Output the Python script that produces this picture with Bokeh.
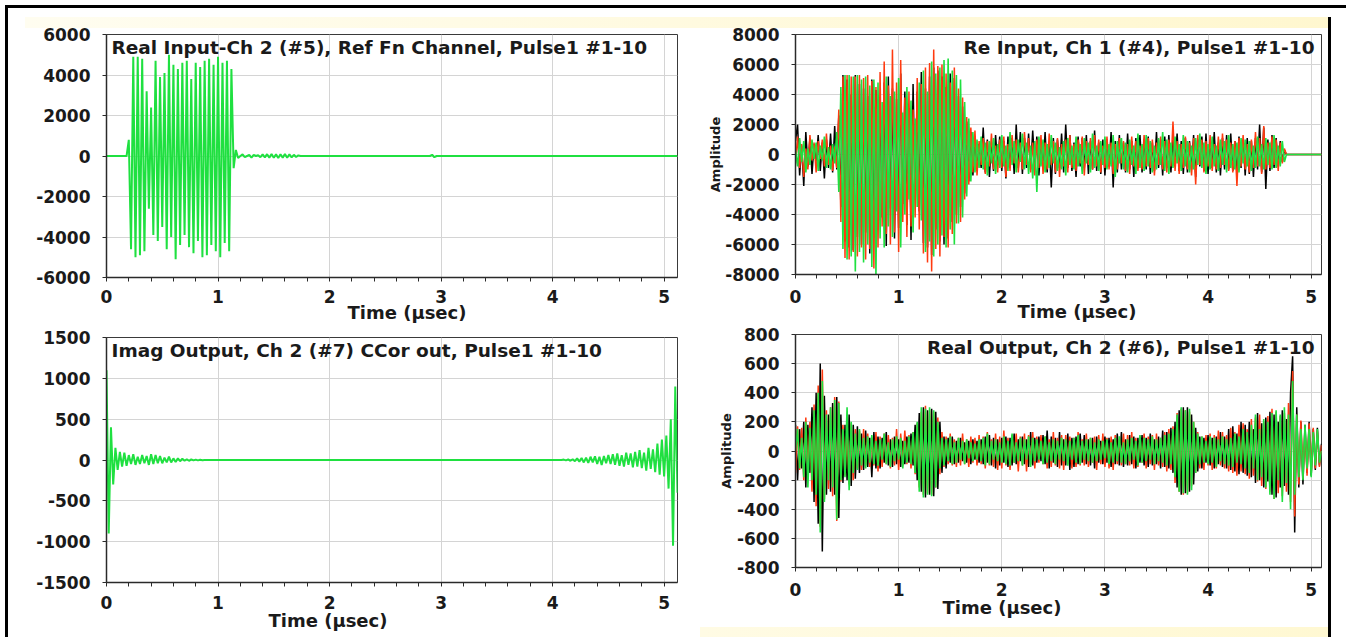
from bokeh.plotting import figure
from bokeh.layouts import column, row
from bokeh.models import Range1d, FixedTicker, Label, Title
from bokeh.embed import file_html
from bokeh.resources import INLINE

# ---------------- data (sample step 0.02 usec) ----------------
DT = 0.02

# Top-left: Real Input-Ch 2 (#5), Ref Fn Channel (green)
tl_green = [
    0, 0, 0, 0, 0, 0, 0, 0, 0, 0,
    800, -4600, 4900, -5000, 4900, -4900, 4800, -4700, 3200, -2600,
    2400, -3900, 4700, -4200, 3900, -3500, 4100, -4600, 5000, -4000,
    4500, -5100, 4300, -4400, 4600, -3900, 4700, -4500, 3800, -4800,
    4600, -4200, 4400, -5000, 4700, -4900, 4800, -4400, 4500, -4700,
    4900, -5000, 4600, -4300, 4700, -4700, 4300, -600, 300, -100,
    0, 80, -60, 0, 50, -80, 60, 0, 40, -60,
    80, -70, 90, -80, 100, -90, 80, -100, 90, -80,
    100, -90, 80, -70, 60, -50, 30, 0, 0, 0,
    0, 0, 0, 0, 0, 0, 0, 0, 0, 0,
    0, 0, 0, 0, 0, 0, 0, 0, 0, 0,
    0, 0, 0, 0, 0, 0, 0, 0, 0, 0,
    0, 0, 0, 0, 0, 0, 0, 0, 0, 0,
    0, 0, 0, 0, 0, 0, 0, 0, 0, 0,
    0, 0, 0, 0, 0, 0, 60, -60, 0, 0,
    0, 0, 0, 0, 0, 0, 0, 0, 0, 0,
    0, 0, 0, 0, 0, 0, 0, 0, 0, 0,
    0, 0, 0, 0, 0, 0, 0, 0, 0, 0,
    0, 0, 0, 0, 0, 0, 0, 0, 0, 0,
    0, 0, 0, 0, 0, 0, 0, 0, 0, 0,
    0, 0, 0, 0, 0, 0, 0, 0, 0, 0,
    0, 0, 0, 0, 0, 0, 0, 0, 0, 0,
    0, 0, 0, 0, 0, 0, 0, 0, 0, 0,
    0, 0, 0, 0, 0, 0, 0, 0, 0, 0,
    0, 0, 0, 0, 0, 0, 0, 0, 0, 0,
    0, 0, 0, 0, 0, 0, 0,
]

# Top-right: Re Input, Ch 1 (#4)  (black, red, green)
tr_black = [
    900, 2000, -1400, 600, -2100, 1500, -800, 1100, -1300, 700,
    -500, 1300, -1100, 800, -1600, 1000, -900, 1400, -1200, 1900,
    -1000, 2600, -3500, 5300, -5800, 5000, -6200, 4000, -6400, 5300,
    -5500, 4700, -6000, 4400, -5200, 3900, -6600, 5000, -4800, 4300,
    -5000, 3600, -4200, 4800, -6100, 5200, -3600, 4400, -5600, 3700,
    -4900, 5400, -3300, 4200, -4700, 3100, -5700, 4700, -3000, 4200,
    -3800, 5500, -5900, 4400, -6200, 5200, -6700, 5800, -5000, 5600,
    -5800, 5200, -6000, 4500, -5600, 5400, -4500, 5100, -4000, 3900,
    -3500, 3200, -2600, 2200, -1800, 1500, -1400, 900, -1100, 700,
    -900, 1800, -1200, 1000, -1500, 800, -1100, 1300, -700, 1200,
    -1100, 900, -1600, 1200, -800, 1100, -1300, 2000, -900, 1500,
    -1300, 1100, -900, 1400, -1000, 1600, -800, 1200, -1400, 900,
    -1000, 1500, -1200, 800, -2200, 1100, -1300, 1000, -900, 1400,
    -1200, 2000, -900, 1300, -1100, 800, -1500, 1200, -800, 1100,
    -900, 1300, -1300, 900, -1000, 1600, -1100, 800, -1300, 1000,
    -1400, 1000, -800, 1500, -2200, 900, -1200, 1300, -1000, 800,
    -1200, 1400, -1000, 900, -1500, 1100, -900, 1300, -1200, 1000,
    -1000, 1200, -1300, 800, -1100, 1500, -900, 1000, -1400, 1200,
    -900, 1300, -1200, 1000, -800, 1400, -1100, 900, -1300, 1100,
    -1200, 900, -1000, 1300, -1500, 1000, -800, 1200, -1100, 1400,
    -1300, 1000, -900, 1500, -1200, 800, -1400, 1100, -1000, 1300,
    -1000, 1400, -1100, 900, -1300, 1200, -900, 1000, -1400, 1100,
    -1300, 900, -1500, 1100, -1000, 2000, -1200, 1800, -2300, 1000,
    -1100, 1300, -900, 1100, -800, 900, -500, 300, 0, 0,
    0, 0, 0, 0, 0, 0, 0, 0, 0, 0,
    0, 0, 0, 0, 0, 0,
]
tr_red = [
    -600, 1200, -900, 700, -1500, 400, -1000, 1300, -400, 800,
    -1200, 900, -300, 1000, -800, 1400, -700, 600, -1100, 500,
    -900, 3000, -4500, 5200, -6900, 5300, -7000, 5200, -6500, 5200,
    -6800, 5300, -6200, 5100, -7000, 5300, -6300, 4900, -7600, 4500,
    -6200, 5500, -4800, 6200, -5300, 4600, -6000, 7000, -5200, 4800,
    -6500, 6300, -4500, 3800, -5500, 4200, -4800, 3000, -4200, 5100,
    -5000, 4700, -6600, 5800, -7200, 6100, -7800, 7000, -6300, 5900,
    -6800, 6000, -5500, 5400, -6200, 4800, -5300, 5800, -4600, 4400,
    -4500, 3800, -3000, 2500, -2000, 1800, -1200, 1600, -1400, 900,
    -700, 1100, -1300, 900, -800, 1400, -1000, 600, -1200, 1000,
    -900, 1200, -1500, 700, -1100, 1300, -600, 1000, -1200, 800,
    -1000, 1500, -700, 1100, -1200, 800, -1400, 1000, -900, 1300,
    -1300, 800, -1000, 1400, -700, 900, -1200, 1100, -1500, 700,
    -800, 1000, -1200, 1300, -900, 700, -1100, 1000, -600, 1200,
    -1400, 900, -700, 1100, -1000, 1300, -800, 1000, -1200, 600,
    -900, 1200, -1000, 800, -1300, 700, -1000, 1100, -600, 900,
    -1100, 700, -1300, 1200, -800, 900, -1100, 600, -1000, 1300,
    -800, 1100, -900, 1000, -1400, 800, -700, 1200, -1000, 900,
    -1200, 1000, -800, 2200, -1100, 900, -1300, 700, -900, 1200,
    -1000, 800, -1400, 1100, -2000, 1300, -700, 1000, -1200, 900,
    -800, 1300, -1100, 700, -1000, 1200, -900, 1400, -700, 1000,
    -1100, 800, -1200, 900, -2100, 1100, -800, 1300, -1000, 700,
    -1200, 1000, -900, 1500, -800, 1100, -1300, 1900, -1000, 800,
    -900, 1200, -700, 1000, -1100, 800, -600, 400, 0, 0,
    0, 0, 0, 0, 0, 0, 0, 0, 0, 0,
    0, 0, 0, 0, 0, 0,
]
tr_green = [
    300, -800, 1100, -500, 900, -1200, 400, -700, 1000, -300,
    800, -1100, 600, -400, 1200, -900, 500, -1000, 700, -600,
    1500, -2500, 4500, -6300, 5300, -7000, 5300, -6800, 5200, -7800,
    5300, -6500, 5000, -7200, 5200, -6000, 4600, -7500, 5000, -8000,
    4800, -5600, 3500, -6200, 5200, -4800, 3900, -5500, 4200, -3800,
    5100, -6200, 2800, -4000, 4500, -3000, 3600, -5200, 2400, -3500,
    4800, -4400, 5600, -6500, 4200, -5800, 6200, -6800, 5400, -6000,
    5800, -5400, 6300, -6200, 6400, -5000, 5600, -6000, 5300, -4600,
    5000, -4200, 3500, -2800, 2400, -1800, 1500, -1200, 1000, -900,
    1200, -1000, 800, -1400, 900, -600, 1100, -1300, 700, -900,
    1300, -800, 600, -1100, 1500, -700, 900, -1200, 1000, -500,
    1400, -1000, 800, -1300, 600, -1600, 900, -2500, 1200, -800,
    1000, -1200, 700, -900, 1300, -600, 800, -1100, 500, -1000,
    900, -1400, 1100, -700, 600, -1000, 1200, -800, 700, -1300,
    1100, -600, 800, -1200, 1400, -900, 600, -1100, 900, -700,
    1200, -1000, 700, -800, 1300, -1500, 900, -600, 1100, -1000,
    800, -1200, 1000, -700, 600, -1300, 1400, -900, 700, -1100,
    1300, -800, 900, -1200, 600, -1000, 1100, -700, 1500, -1100,
    1000, -1300, 800, -900, 1200, -600, 700, -1100, 1300, -800,
    900, -1200, 600, -1000, 1100, -700, 1400, -900, 800, -1300,
    700, -1000, 1200, -800, 600, -1100, 1000, -700, 900, -1200,
    1300, -900, 700, -1000, 800, -1200, 1100, -600, 1000, -800,
    900, -1100, 600, -900, 1200, -800, 700, -1000, 1100, -700,
    800, -1000, 1300, -900, 600, -800, 900, -500, 0, 0,
    0, 0, 0, 0, 0, 0, 0, 0, 0, 0,
    0, 0, 0, 0, 0, 0,
]

# Bottom-left: Imag Output, Ch 2 (#7) CCor out (green)
bl_green = [
    1100, -900, 400, -300, 150, -120, 100, -80, 90, -70,
    60, -50, 70, -60, 40, -50, 60, -40, 50, -60,
    70, -50, 60, -40, 50, -40, 30, -30, 40, -30,
    20, -25, 20, -15, 15, -10, 10, -10, 8, -5,
    5, -5, 3, -3, 0, 0, 0, 0, 0, 0,
    0, 0, 0, 0, 0, 0, 0, 0, 0, 0,
    0, 0, 0, 0, 0, 0, 0, 0, 0, 0,
    0, 0, 0, 0, 0, 0, 0, 0, 0, 0,
    0, 0, 0, 0, 0, 0, 0, 0, 0, 0,
    0, 0, 0, 0, 0, 0, 0, 0, 0, 0,
    0, 0, 0, 0, 0, 0, 0, 0, 0, 0,
    0, 0, 0, 0, 0, 0, 0, 0, 0, 0,
    0, 0, 0, 0, 0, 0, 0, 0, 0, 0,
    0, 0, 0, 0, 0, 0, 0, 0, 0, 0,
    0, 0, 0, 0, 0, 0, 0, 0, 0, 0,
    0, 0, 0, 0, 0, 0, 0, 0, 0, 0,
    0, 0, 0, 0, 0, 0, 0, 0, 0, 0,
    0, 0, 0, 0, 0, 0, 0, 0, 0, 0,
    0, 0, 0, 0, 0, 0, 0, 0, 0, 0,
    0, 0, 0, 0, 0, 0, 0, 0, 0, 0,
    0, 0, 0, 0, 0, 5, -5, 8, -10, 10,
    -15, 20, -20, 25, -30, 30, -35, 40, -30, 45,
    -50, 40, -60, 50, -40, 60, -50, 70, -60, 80,
    -70, 60, -80, 90, -60, 80, -90, 100, -80, 120,
    -100, 90, -130, 150, -110, 130, -150, 200, -180, 250,
    -200, 300, -350, 500, -1050, 900, -400,
]

# Bottom-right: Real Output, Ch 2 (#6)  (black, red, green)
br_black = [
    180, -200, 150, -120, 200, -250, 180, -150, 300, -350,
    400, -500, 600, -690, 380, -300, 250, -280, 330, -300,
    370, -460, 250, -220, 180, -200, 250, -240, 180, -190,
    170, -150, 120, -130, 140, -110, 90, -180, 130, -120,
    100, -120, 90, -80, 130, -100, 80, -110, 100, -90,
    80, -110, 70, -90, 100, -80, 120, -100, 180, -200,
    260, -280, 300, -320, 280, -300, 290, -310, 270, -260,
    200, -150, 100, -120, 90, -80, 100, -90, 70, -80,
    90, -70, 60, -80, 70, -90, 80, -60, 70, -80,
    80, -90, 100, -80, 110, -100, 90, -120, 80, -100,
    90, -80, 100, -110, 90, -100, 120, -90, 80, -70,
    100, -90, 80, -110, 130, -100, 90, -80, 100, -70,
    110, -90, 140, -120, 100, -80, 90, -110, 130, -100,
    80, -100, 120, -130, 90, -110, 100, -90, 120, -80,
    110, -90, 80, -100, 90, -120, 100, -80, 70, -90,
    100, -80, 90, -110, 80, -90, 120, -100, 130, -110,
    80, -100, 110, -90, 100, -120, 90, -80, 110, -100,
    90, -110, 120, -100, 80, -90, 100, -120, 140, -110,
    130, -120, 160, -150, 200, -250, 280, -300, 300, -290,
    300, -280, 250, -230, 160, -140, 100, -120, 90, -80,
    110, -100, 90, -120, 100, -90, 130, -110, 100, -120,
    150, -130, 170, -140, 120, -160, 200, -150, 180, -170,
    200, -180, 150, -220, 260, -200, 190, -250, 230, -210,
    270, -300, 250, -320, 200, -250, 280, -240, 220, -300,
    400, 650, -560, 300, -250, 200, -230, 180, -150, 200,
    -170, 150, -130, 160, -100, 50,
]
br_red = [
    -150, 170, -130, 160, -200, 230, -160, 200, -280, 320,
    -380, 450, -520, 560, -330, 280, -260, 300, -310, 370,
    -480, 340, -210, 180, -170, 160, -230, 190, -200, 150,
    -120, 140, -130, 150, -100, 120, -110, 90, -100, 130,
    -140, 100, -110, 120, -90, 110, -120, 90, -100, 150,
    -130, 120, -100, 140, -90, 110, -120, 130, -160, 190,
    -250, 270, -300, 310, -290, 280, -300, 270, -250, 230,
    -160, 130, -110, 100, -90, 120, -100, 80, -110, 90,
    -100, 120, -90, 80, -110, 100, -80, 90, -100, 110,
    -90, 100, -120, 130, -100, 80, -110, 120, -130, 100,
    -120, 140, -100, 90, -130, 110, -80, 120, -140, 100,
    -100, 120, -140, 110, -90, 130, -120, 100, -80, 110,
    -90, 100, -120, 80, -110, 130, -100, 90, -120, 110,
    -130, 110, -90, 100, -120, 90, -110, 130, -100, 80,
    -100, 120, -110, 90, -80, 100, -130, 110, -90, 120,
    -110, 90, -120, 100, -130, 110, -90, 80, -100, 120,
    -90, 110, -100, 130, -120, 90, -110, 100, -80, 120,
    -120, 100, -90, 110, -130, 120, -100, 90, -110, 130,
    -140, 150, -130, 170, -220, 260, -280, 290, -300, 280,
    -290, 270, -240, 200, -150, 130, -120, 100, -130, 110,
    -100, 120, -130, 110, -120, 140, -100, 130, -120, 110,
    -140, 160, -150, 130, -170, 180, -140, 190, -160, 150,
    -190, 220, -170, 230, -210, 250, -240, 200, -260, 240,
    -280, 290, -330, 270, -290, 240, -310, 260, -280, 330,
    -350, 550, -450, 250, -230, 210, -190, 160, -170, 190,
    -150, 160, -120, 140, -110, 40,
]
br_green = [
    0, 150, -120, 90, -180, 200, -250, 160, -200, 280,
    -300, 400, -560, 480, -350, 250, -200, 300, -250, 350,
    -470, 330, -200, 150, -180, 300, -270, 200, -150, 120,
    -130, 150, -100, 90, -120, 100, -80, 110, -90, 70,
    -100, 80, -60, 120, -90, 60, -110, 80, -70, 100,
    -60, 90, -120, 70, -80, 100, -90, 130, -150, 200,
    -280, 300, -320, 290, -300, 300, -310, 280, -250, 200,
    -120, 90, -100, 80, -70, 100, -90, 60, -80, 90,
    -60, 70, -90, 80, -50, 60, -70, 50, -60, 80,
    -70, 90, -100, 120, -90, 70, -60, 80, -70, 60,
    -80, 100, -90, 70, -100, 120, -80, 60, -70, 90,
    -100, 80, -60, 100, -110, 90, -70, 80, -60, 70,
    -90, 100, -80, 60, -70, 80, -90, 70, -60, 90,
    -70, 80, -100, 70, -60, 90, -80, 110, -90, 70,
    -60, 80, -70, 90, -80, 60, -70, 80, -60, 70,
    -50, 80, -90, 60, -80, 90, -70, 100, -80, 60,
    -90, 80, -70, 90, -60, 70, -100, 110, -80, 90,
    -70, 80, -60, 100, -90, 80, -70, 90, -80, 110,
    -100, 120, -90, 150, -180, 250, -280, 300, -290, 280,
    -300, 290, -270, 200, -150, 120, -90, 100, -80, 70,
    -90, 100, -80, 90, -110, 80, -70, 100, -90, 80,
    -100, 90, -110, 120, -80, 100, -90, 150, -120, 130,
    -150, 180, -120, 250, -200, 150, -180, 220, -250, 200,
    -300, 260, -330, 280, -200, 250, -350, 300, -220, 250,
    -400, 480, -300, 250, -180, 150, -200, 180, -120, 150,
    -180, 130, -100, 150, -80, 0,
]

X_MAJOR = [0, 1, 2, 3, 4, 5]
X_MINOR = [0.2, 0.4, 0.6, 0.8, 1.2, 1.4, 1.6, 1.8, 2.2, 2.4, 2.6, 2.8,
           3.2, 3.4, 3.6, 3.8, 4.2, 4.4, 4.6, 4.8, 5.2]
TL_YTICKS = [-6000, -4000, -2000, 0, 2000, 4000, 6000]
TR_YTICKS = [-8000, -6000, -4000, -2000, 0, 2000, 4000, 6000, 8000]
BL_YTICKS = [-1500, -1000, -500, 0, 500, 1000, 1500]
BR_YTICKS = [-800, -600, -400, -200, 0, 200, 400, 600, 800]

TITLES = [
    "Real Input-Ch 2 (#5), Ref Fn Channel, Pulse1 #1-10",
    "Re Input, Ch 1 (#4), Pulse1 #1-10",
    "Imag Output, Ch 2 (#7) CCor out, Pulse1 #1-10",
    "Real Output, Ch 2 (#6), Pulse1 #1-10",
]
XLABEL = "Time (\u00b5sec)"
YLABEL = "Amplitude"

# ---------------- styling ----------------
FONT = "DejaVu Sans"
TXT = "#1a1a1a"
GREEN = "#1fe040"
RED = "#ff3a10"
BLACK = "#000000"


def times(vals):
    return [round(i * DT, 2) for i in range(len(vals))]


def panel(w, h, mb, xmax, yticks, xstand, ylabel=None, ylstand=0):
    p = figure(width=w, height=h, output_backend="svg", toolbar_location=None,
               x_range=Range1d(0, xmax), y_range=Range1d(yticks[0], yticks[-1]),
               min_border_left=mb[0], min_border_right=mb[1],
               min_border_top=mb[2], min_border_bottom=mb[3])
    p.border_fill_color = None
    p.background_fill_color = "white"
    p.outline_line_color = "#3a3a3a"
    p.outline_line_width = 1
    p.xaxis.ticker = FixedTicker(ticks=X_MAJOR, minor_ticks=X_MINOR)
    p.yaxis.ticker = FixedTicker(ticks=yticks)
    p.xaxis.major_label_overrides = {t: str(t) for t in X_MAJOR}
    p.yaxis.major_label_overrides = {t: str(t) for t in yticks}
    for ax in (p.xaxis[0], p.yaxis[0]):
        ax.axis_line_color = "#2a2a2a"
        ax.axis_line_width = 1.5
        ax.major_tick_line_color = "#2a2a2a"
        ax.major_tick_out = 4
        ax.major_tick_in = 0
        ax.minor_tick_line_color = "#2a2a2a"
        ax.minor_tick_out = 4
        ax.minor_tick_in = 0
        ax.major_label_text_font = FONT
        ax.major_label_text_font_style = "bold"
        ax.major_label_text_font_size = "17px"
        ax.major_label_text_color = TXT
    p.yaxis.minor_tick_line_color = None
    p.xaxis.major_label_standoff = xstand
    p.yaxis.major_label_standoff = 12
    if ylabel:
        p.yaxis.axis_label = ylabel
        p.yaxis.axis_label_text_font = FONT
        p.yaxis.axis_label_text_font_style = "bold"
        p.yaxis.axis_label_text_font_size = "13px"
        p.yaxis.axis_label_text_color = TXT
        p.yaxis.axis_label_standoff = ylstand
    p.xgrid.grid_line_color = "#d4d4d4"
    p.ygrid.grid_line_color = "#d4d4d4"
    return p


def title(p, text, xmax, ymax, right):
    lab = Label(x=xmax if right else 0, y=ymax, x_offset=-7 if right else 5, y_offset=-2,
                text=text, text_align="right" if right else "left", text_baseline="top",
                text_font=FONT, text_font_style="bold", text_font_size="18.5px", text_color=TXT)
    p.add_layout(lab)


def xlabel(p, offset, standoff):
    t = Title(text=XLABEL, align="left", offset=offset, standoff=standoff,
              text_font=FONT, text_font_style="bold", text_font_size="18px", text_color=TXT)
    p.add_layout(t, "below")


# top-left
p1 = panel(690, 326, (105, 13, 34, 49), 5.12, TL_YTICKS, 8)
p1.line(times(tl_green), tl_green, line_color=GREEN, line_width=2)
title(p1, TITLES[0], 5.12, 6000, False)
xlabel(p1, 241, -11)

# top-right
p2 = panel(659, 326, (104, 28, 34, 52), 5.1, TR_YTICKS, 11, YLABEL, -1)
p2.line(times(tr_black), tr_black, line_color=BLACK, line_width=1.5)
p2.line(times(tr_red), tr_red, line_color=RED, line_width=1.5)
p2.line(times(tr_green), tr_green, line_color=GREEN, line_width=1.6)
title(p2, TITLES[1], 5.1, 8000, True)
xlabel(p2, 222, -13)

# bottom-left
p3 = panel(690, 311, (106, 13, 11, 55), 5.12, BL_YTICKS, 9)
p3.line(times(bl_green), bl_green, line_color=GREEN, line_width=2)
title(p3, TITLES[2], 5.12, 1500, False)
xlabel(p3, 162, -8.5)

# bottom-right
p4 = panel(659, 311, (105, 27, 8, 70), 5.1, BR_YTICKS, 11, YLABEL, 0)
p4.line(times(br_black), br_black, line_color=BLACK, line_width=1.5)
p4.line(times(br_red), br_red, line_color=RED, line_width=1.5)
p4.line(times(br_green), br_green, line_color=GREEN, line_width=1.6)
title(p4, TITLES[3], 5.1, 800, True)
xlabel(p4, 147, -8.5)

page_styles = {
    "background-color": "white",
    "background-image": ("linear-gradient(#000,#000), linear-gradient(#000,#000), "
                         "linear-gradient(#000,#000), "
                         "linear-gradient(to right, #fffdf0, #fff7cf), "
                         "linear-gradient(to right, #fffbe4, #fff8d2)"),
    "background-size": "1341px 3px, 3px 632px, 3px 620px, 1303px 11px, 630px 10px",
    "background-position": "5px 5px, 5px 5px, 1328px 17px, 25px 17px, 700px 627px",
    "background-repeat": "no-repeat",
}

layout = row(column(p1, p3), column(p2, p4), styles=page_styles)

with open("out.html", "w") as f:
    f.write(file_html(layout, INLINE))
